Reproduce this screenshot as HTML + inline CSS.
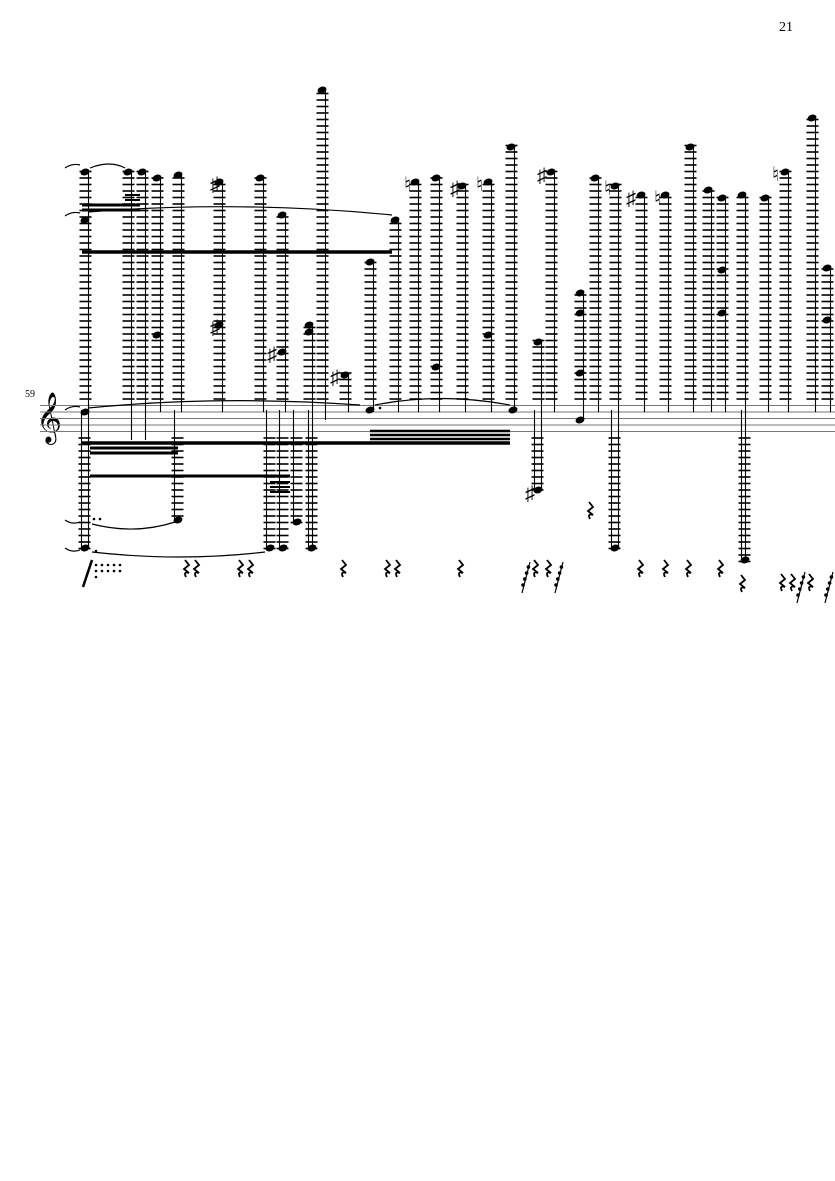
<!DOCTYPE html>
<html><head><meta charset="utf-8"><style>
html,body{margin:0;padding:0;background:#fff;}
svg{display:block;}
text{font-family:"Liberation Serif",serif;}
</style></head><body>
<svg id="s" width="835" height="1181" xmlns="http://www.w3.org/2000/svg">
<text x="779" y="31" font-size="14">21</text>
<text x="25" y="397" font-size="10">59</text>
<text x="36" y="432" font-size="44">𝄞</text>
<g id="g"></g>
</svg>
<script>
var g=document.getElementById('g'),h='';
function L(x1,y1,x2,y2,w,c){h+='<line x1="'+x1+'" y1="'+y1+'" x2="'+x2+'" y2="'+y2+'" stroke="'+(c||'#000')+'" stroke-width="'+w+'"/>';}
function head(x,y){h+='<ellipse cx="'+x+'" cy="'+y+'" rx="4.6" ry="3.3" transform="rotate(-20 '+x+' '+y+')"/>';}
function rest(x,y){h+='<path d="M'+(x-1)+' '+(y-8)+' L'+(x+3)+' '+(y-3)+' L'+(x-2)+' '+(y+1)+' L'+(x+3)+' '+(y+5)+' Q'+(x-3)+' '+(y+3)+' '+(x)+' '+(y+9)+'" fill="none" stroke="#000" stroke-width="1.8"/>';}
var T=405.5,S=6.5,B=431.5;
for(var i=0;i<5;i++)L(40,T+i*S,835,T+i*S,1,'#777');
var up=[[85,[172,220],548],[128,[172],440],[142,[172],440],[157,[178,335],412],[178,[175],412],[219,[182,325],412],[260,[178],412],[282,[215,352],412],[309,[325,332],548],[322,[90],420],[345,[375],412],[370,[262],412],[395,[220],412],[415,[182],412],[436,[178,367],412],[462,[186],412],[488,[182,335],412],[511,[147],412],[538,[342],490],[551,[172],412],[580,[293,313,373],420],[595,[178],412],[615,[186],548],[641,[195],412],[665,[195],412],[690,[147],412],[708,[190],412],[722,[198,270,313],412],[742,[195],560],[765,[198],412],[785,[172],412],[812,[118],412],[827,[268,320],412]];
up.forEach(function(n){var x=n[0],top=Math.min.apply(null,n[1]);
 for(var y=T-S;y>=top-2;y-=S)L(x-5.5,y,x+6.5,y,1.6);
 L(x+3.5,top,x+3.5,n[2],1.1);
 n[1].forEach(function(y){head(x,y);});
});
var dn=[[85,548],[178,520],[270,548],[283,548],[297,522],[312,548],[538,490],[615,548],[745,560]];
dn.forEach(function(n){var x=n[0];
 for(var y=B+S;y<=n[1]+2;y+=S)L(x-6.5,y,x+5.5,y,1.6);
 L(x-3.5,410,x-3.5,n[1],1.1);head(x,n[1]);
});
head(85,412);head(370,410);head(513,410);head(580,420);
L(82,252,392,252,3.5);L(82,443,510,443,3.5);L(90,448,178,448,3);L(90,453,178,453,3);L(90,476,290,476,3);
L(82,205,140,205,3);L(82,210,140,210,3);L(125,195,140,195,2);L(125,200,140,200,2);
L(370,431,510,431,2.5);L(370,435,510,435,2.5);L(370,439,510,439,2.5);
L(270,482,290,482,2);L(270,487,290,487,2);L(270,492,290,492,2);
h+='<path d="M88 212 Q240 200 392 215" fill="none" stroke="#000" stroke-width="1.2"/>';
h+='<path d="M88 408 Q220 395 360 405" fill="none" stroke="#000" stroke-width="1.2"/>';
h+='<path d="M375 405 Q440 392 510 405" fill="none" stroke="#000" stroke-width="1.2"/>';
h+='<path d="M92 524 Q135 535 175 522" fill="none" stroke="#000" stroke-width="1.2"/>';
h+='<path d="M92 552 Q180 562 265 552" fill="none" stroke="#000" stroke-width="1.2"/>';
h+='<path d="M90 168 Q110 160 125 168" fill="none" stroke="#000" stroke-width="1.2"/>';
h+='<path d="M65 168 Q72 163 80 165" fill="none" stroke="#000" stroke-width="1.2"/>';
h+='<path d="M65 216 Q72 211 80 213" fill="none" stroke="#000" stroke-width="1.2"/>';
h+='<path d="M65 410 Q72 405 80 407" fill="none" stroke="#000" stroke-width="1.2"/>';
h+='<path d="M65 520 Q72 525 80 522" fill="none" stroke="#000" stroke-width="1.2"/>';
h+='<path d="M65 548 Q72 553 80 550" fill="none" stroke="#000" stroke-width="1.2"/>';
[[210,184,'♯'],[210,327,'♯'],[267,354,'♯'],[330,377,'♯'],[404,184,'♮'],[450,188,'♯'],[476,184,'♮'],[537,175,'♯'],[525,493,'♯'],[604,188,'♮'],[626,198,'♯'],[654,198,'♮'],[772,174,'♮']].forEach(function(a){h+='<text x="'+a[0]+'" y="'+(a[1]+7)+'" font-size="20" font-family="DejaVu Sans">'+a[2]+'</text>';});
[186,196,240,250,343,387,397,460,535,548,590,640,665,688,720,742,782,792,810].forEach(function(x){var y=(x==590)?510:(x==742?583:568);if(x>=782)y=582;rest(x,y);});
[[525,590],[558,590],[800,600],[828,600]].forEach(function(p){L(p[0]-3,p[1]+3,p[0]+5,p[1]-28,1.2);for(var k=0;k<4;k++)h+='<circle cx="'+(p[0]+k*1.8-2)+'" cy="'+(p[1]-5-k*6)+'" r="1.8"/>';});
L(83,587,92,560,2.5);
for(var r=0;r<2;r++)for(var c=0;c<5;c++)h+='<circle cx="'+(96+c*6)+'" cy="'+(565+r*6)+'" r="1.3"/>';
h+='<circle cx="96" cy="577" r="1.3"/><circle cx="96" cy="551" r="1.3"/><circle cx="94" cy="519" r="1.3"/><circle cx="100" cy="519" r="1.3"/><circle cx="380" cy="408" r="1.3"/>';
g.innerHTML=h;
</script>
</body></html>
